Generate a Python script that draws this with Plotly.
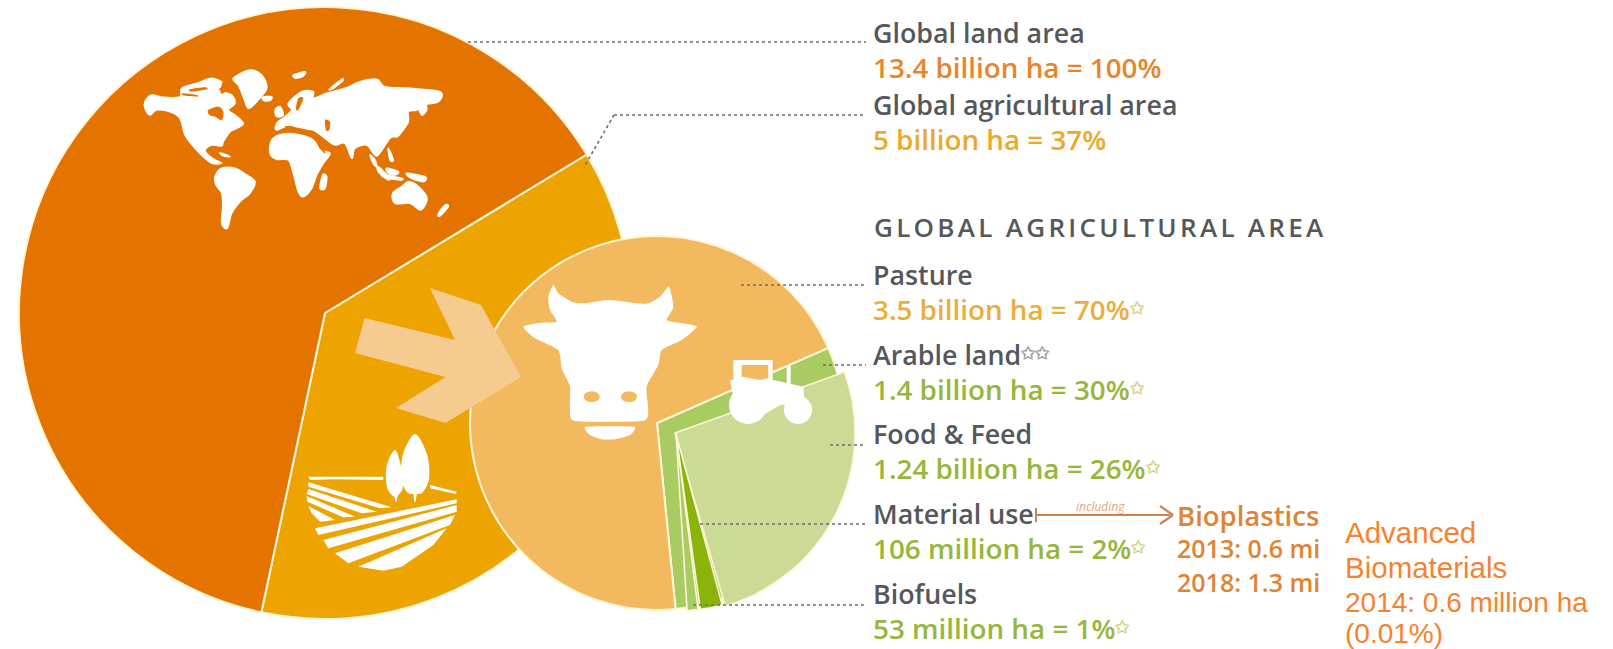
import plotly.graph_objects as go

# ---------- data ----------
land_labels = ["Global agricultural area", "Other land"]
land_share = [37, 63]
area_labels = ["Arable land", "Pasture"]
area_share = [30, 70]
food_share = [26, 74]
material_share = [2, 98]
biofuel_share = [1, 99]

heads = ["Global land area", "Global agricultural area", "Pasture", "Arable land", "Food & Feed", "Material use", "Biofuels"]
stats = ["13.4 billion ha = 100%", "5 billion ha = 37%", "3.5 billion ha = 70%", "1.4 billion ha = 30%",
         "1.24 billion ha = 26%", "106 million ha = 2%", "53 million ha = 1%"]
section_title = "GLOBAL AGRICULTURAL AREA"
bio_lines = ["Bioplastics", "2013: 0.6 mi", "2018: 1.3 mi"]
adv_title = ["Advanced", "Biomaterials"]
adv_lines = ["2014: 0.6 million ha", "(0.01%)"]

# ---------- layout / style ----------
W, H = 1613, 649
ORANGE, AMBER, PASTURE = "#E57300", "#EDA400", "#F3B95F"
ARABLE, FOOD, DARK = "#A9CC62", "#CBDB96", "#8AB40A"
CREAM = "#FFF6D8"
GREY = "#55575B"
FONT = "Open Sans"

def dom(cx, cy, r):
    return dict(x=[(cx - r) / W, (cx + r) / W], y=[1 - (cy + r) / H, 1 - (cy - r) / H])

def pie(vals, names, cols, rot, cx, cy, r, lw=(2, 2)):
    return go.Pie(values=vals, labels=names, sort=False, direction="clockwise", rotation=rot,
                  domain=dom(cx, cy, r), textinfo="none", hoverinfo="label+percent", showlegend=False,
                  marker=dict(colors=cols, line=dict(color=CREAM, width=list(lw))))

T = "rgba(0,0,0,0)"
fig = go.Figure()
fig.add_trace(pie(land_share, land_labels, [AMBER, ORANGE], 58.8, 325, 313, 306))
fig.add_trace(pie(area_share, area_labels, [ARABLE, PASTURE], 66.3, 657, 423, 187))
fig.add_trace(pie(food_share, ["Food & Feed", ""], [FOOD, T], 70.2, 675, 433, 180, (1.5, 0)))
fig.add_trace(pie(material_share, ["Material use", ""], [DARK, T], 164.9, 676, 434, 177, (1.5, 0)))
fig.add_trace(pie(biofuel_share, ["Biofuels", ""], [ARABLE, T], 172.8, 676, 434, 177, (1.5, 0)))

# ---------- decorative icons ----------
def crop(ox, oy):
    return lambda p: [(ox + x / 3, oy + y / 3) for x, y in p]
cA, cB, cCow, cField = crop(140, 60), crop(270, 60), crop(515, 275), crop(300, 420)
def z5(p): return [(620 + x / 3, 330 + y / 3) for x, y in p]

def poly(p, fill="white"):
    d = "M " + " L ".join(f"{x:.1f} {y:.1f}" for x, y in p) + " Z"
    return dict(type="path", path=d, xref="x", yref="y", fillcolor=fill, layer="above", line=dict(width=0))

def smooth(p, fill="white", k=0.16, lw=0):
    n = len(p)
    d = f"M {p[0][0]:.1f} {p[0][1]:.1f}"
    for i in range(n):
        p0, p1, p2, p3 = p[i - 1], p[i], p[(i + 1) % n], p[(i + 2) % n]
        c1 = (p1[0] + (p2[0] - p0[0]) * k, p1[1] + (p2[1] - p0[1]) * k)
        c2 = (p2[0] - (p3[0] - p1[0]) * k, p2[1] - (p3[1] - p1[1]) * k)
        d += f" C {c1[0]:.1f} {c1[1]:.1f} {c2[0]:.1f} {c2[1]:.1f} {p2[0]:.1f} {p2[1]:.1f}"
    return dict(type="path", path=d + " Z", xref="x", yref="y", fillcolor=fill, layer="above",
                line=dict(width=lw, color=fill))

def oval(cx, cy, rx, ry, fill="white"):
    return dict(type="circle", xref="x", yref="y", x0=cx - rx, x1=cx + rx, y0=cy - ry, y1=cy + ry,
                fillcolor=fill, layer="above", line=dict(width=0))

def dots(x0, y0, x1, y1, color="#6B6D72", dash="dot", width=1.6):
    return dict(type="line", xref="x", yref="y", x0=x0, y0=y0, x1=x1, y1=y1, layer="above",
                line=dict(color=color, width=width, dash=dash))

shapes = []
# arrow
shapes.append(poly([(364.5, 318), (455, 340), (430, 288), (481, 305), (521, 377), (445.5, 423), (396, 408), (445.5, 377), (355, 353)], "#F6CB90"))

# world map, white land with orange seas
west = [
    [(15,125),(35,105),(70,112),(120,110),(125,85),(170,70),(215,55),(250,70),(235,90),(275,105),(285,130),(265,150),(285,165),(310,190),(290,205),(270,215),(250,245),(245,258),(215,255),(195,270),(205,285),(225,300),(245,310),(215,310),(190,290),(165,265),(135,225),(120,175),(90,155),(50,150),(30,165),(15,145)],
    [(280,55),(330,30),(365,45),(380,85),(350,125),(325,145),(310,110),(295,75)],
    [(368,112),(395,110),(390,122),(372,122)],
    [(225,350),(245,325),(285,325),(320,345),(345,365),(330,400),(300,425),(275,460),(262,505),(245,490),(248,440),(245,400),(228,375)],
    [(240,278),(270,290),(250,287)],
    [(405,150),(420,140),(430,165),(410,170)],
]
west_sea = [
    [(205,150),(235,140),(250,155),(245,180),(225,170),(208,165)],
    [(250,62),(272,65),(262,90),(242,100)],
    [(150,88),(195,82),(200,88),(155,95)],
    [(130,100),(170,105),(170,110),(130,106)],
]
east = [
    [(5,240),(40,222),(90,225),(130,240),(150,270),(180,280),(160,310),(140,345),(125,385),(100,410),(85,395),(70,340),(55,300),(20,298),(0,280)],
    [(55,130),(95,95),(130,95),(130,115),(170,100),(225,85),(270,65),(320,58),(345,80),(420,85),(510,95),(505,125),(460,135),(440,150),(415,155),(415,185),(385,225),(360,235),(325,285),(310,280),(290,255),(255,265),(245,295),(225,250),(195,255),(165,235),(130,210),(100,210),(60,195),(20,210),(20,190),(45,170),(65,150)],
    [(70,45),(105,35),(100,48),(78,55)],
    [(445,135),(465,130),(470,150),(455,165)],
    [(400,190),(415,185),(385,228),(375,225)],
    [(178,88),(215,58),(218,62),(190,85)],
    [(158,345),(170,350),(165,385),(150,385)],
    [(300,285),(315,300),(320,320),(310,310)],
    [(325,320),(360,355),(350,357),(325,335)],
    [(350,325),(385,335),(375,345),(355,340)],
    [(355,265),(370,300),(360,300)],
    [(340,345),(395,355),(390,360),(345,352)],
    [(410,340),(465,350),(460,365),(425,355)],
    [(368,400),(395,380),(415,365),(440,375),(470,410),(465,435),(450,450),(420,430),(375,430)],
    [(525,435),(535,440),(510,468),(505,462)],
]
east_sea = [
    [(165,180),(180,185),(178,210),(168,210)],
    [(132,232),(138,232),(165,275),(158,275)],
    [(50,198),(120,212),(125,225),(60,208)],
    [(85,115),(100,115),(85,150),(78,145)],
]
for c in west:
    shapes.append(smooth(cA(c), lw=1.5))
for c in west_sea:
    shapes.append(smooth(cA(c), ORANGE))
for c in east:
    shapes.append(smooth(cB(c), lw=1.5))
for c in east_sea:
    shapes.append(smooth(cB(c), ORANGE))

# field and trees
field = [
    [(25,170),(250,170),(250,180),(100,178),(30,180)],
    [(390,195),(470,215),(468,222),(390,205)],
    [(25,187),(275,262),(240,265),(25,200)],
    [(25,207),(230,275),(185,280),(20,222)],
    [(20,228),(165,290),(130,292),(22,245)],
    [(25,258),(105,300),(60,305),(35,280)],
    [(45,325),(470,238),(470,250),(55,345)],
    [(70,360),(470,255),(470,275),(85,385)],
    [(105,400),(465,285),(450,315),(145,430)],
    [(175,440),(440,325),(400,375),(305,440),(250,452)],
    [(340,222),(350,222),(347,245),(343,245)],
    [(283,228),(293,228),(290,245),(286,245)],
]
for f in field:
    shapes.append(poly(cField(f)))
shapes.append(smooth(cField([(345,42),(380,100),(388,170),(370,215),(345,222),(320,215),(303,170),(310,100)])))
shapes.append(smooth(cField([(288,92),(305,150),(308,205),(285,230),(262,205),(258,150),(270,110)])))

# cow
cow = [(285,75),(205,85),(170,80),(130,55),(115,30),(100,65),(105,105),(125,140),(80,143),(25,155),(60,190),(130,225),(140,280),(165,335),(165,400),(180,438),(380,438),(400,410),(395,335),(430,270),(440,225),(500,195),(545,155),(490,143),(455,135),(475,95),(462,35),(435,65),(400,85),(365,85)]
shapes.append(smooth(cCow(cow), k=0.1))
shapes.append(oval(515 + 230 / 3, 275 + 365 / 3, 8, 5.5, PASTURE))
shapes.append(oval(515 + 342 / 3, 275 + 365 / 3, 8, 5.5, PASTURE))
shapes.append(smooth(cCow([(212,455),(358,455),(345,480),(300,493),(260,493),(225,480)]), k=0.08))

# tractor
shapes.append(poly(z5([(340,90),(458,90),(458,170),(340,170)])))
shapes.append(poly(z5([(365,105),(445,105),(445,145),(420,150),(365,140)]), PASTURE))
shapes.append(poly(z5([(330,150),(460,150),(550,170),(555,225),(480,225),(430,255),(340,200)])))
shapes.append(poly(z5([(500,108),(512,108),(512,170),(500,170)])))
shapes.append(oval(748, 405, 19, 19))
shapes.append(oval(798, 410, 14, 14))

# leader lines
shapes += [
    dots(468, 42, 866, 42),
    dots(614, 115, 866, 115), dots(614, 115, 584, 167),
    dots(741, 285, 866, 285),
    dots(823, 365, 866, 365),
    dots(830, 445, 866, 445),
    dots(700, 524, 866, 524),
    dots(693, 605, 866, 605),
]
# "including" arrow
ARR = "#C98452"
shapes += [
    dots(1036, 515, 1170, 515, ARR, "solid", 2.2),
    dots(1036, 508, 1036, 522, ARR, "solid", 2),
    dots(1160, 506, 1173, 515, ARR, "solid", 2.2),
    dots(1160, 524, 1173, 515, ARR, "solid", 2.2),
]

# ---------- text ----------
def txt(x, y, s, color, size=27, family=FONT, weight=600, italic=False):
    return dict(x=x, y=y, xref="x", yref="y", text=s, showarrow=False, xanchor="left", yanchor="middle",
                align="left", borderpad=0,
                font=dict(family=family, size=size, color=color, weight=weight, style="italic" if italic else "normal"))

head_y = [32.5, 104.5, 274.5, 354.5, 433, 513, 593]
stat_y = [67.5, 139.5, 309.5, 389.5, 468, 548, 628]
stat_col = ["#E8852B", "#EBA92B", "#EBAE3A", "#97B63C", "#97B63C", "#97B63C", "#97B63C"]
star = '<span style="font-size:17px;baseline-shift:35%;fill:#D6D08A">✩</span>'
ann = []
for i, (h, s) in enumerate(zip(heads, stats)):
    hs = h + ('<span style="font-size:17px;baseline-shift:35%;fill:#9A9C9F">✩✩</span>' if h == "Arable land" else "")
    body = (f'<span style="font-size:26.8px">{hs}</span><br>'
            f'<span style="font-size:27.8px;fill:{stat_col[i]}">{s}</span>' + (star if i >= 2 else ""))
    gap = stat_y[i] - head_y[i]
    ann.append(txt(872, (head_y[i] + stat_y[i]) / 2, body, GREY, size=gap / 1.3))
ann.append(txt(873, 227, section_title, GREY, size=26))
ann.append(txt(1075, 506, "including", "#E2A878", size=12, weight=400, italic=True))
for y, s, sz in zip([515, 548, 582], bio_lines, [27.5, 25, 25]):
    ann.append(txt(1176, y, s, "#DE8433", size=sz))
ADV = "#F5822F"
for y, s in zip([532, 567], adv_title):
    ann.append(txt(1344, y, s, ADV, size=29.5, family="Liberation Sans", weight=400))
for y, s in zip([602, 633], adv_lines):
    ann.append(txt(1344, y, s, ADV, size=28, family="Liberation Sans", weight=400))

fig.update_layout(
    width=W, height=H, margin=dict(l=0, r=0, t=0, b=0), autosize=False,
    paper_bgcolor="white", plot_bgcolor="white", showlegend=False,
    xaxis=dict(range=[0, W], visible=False, fixedrange=True),
    yaxis=dict(range=[H, 0], visible=False, fixedrange=True),
    shapes=shapes, annotations=ann,
)
post = """
document.body.style.margin='0';
document.querySelectorAll('.annotation-text').forEach(function(t){
  if(t.textContent.indexOf('GLOBAL AGRICULTURAL')===0){t.style.letterSpacing='3.3px';}
});
"""
fig.write_html("out.html", post_script=post, config=dict(displayModeBar=False))
